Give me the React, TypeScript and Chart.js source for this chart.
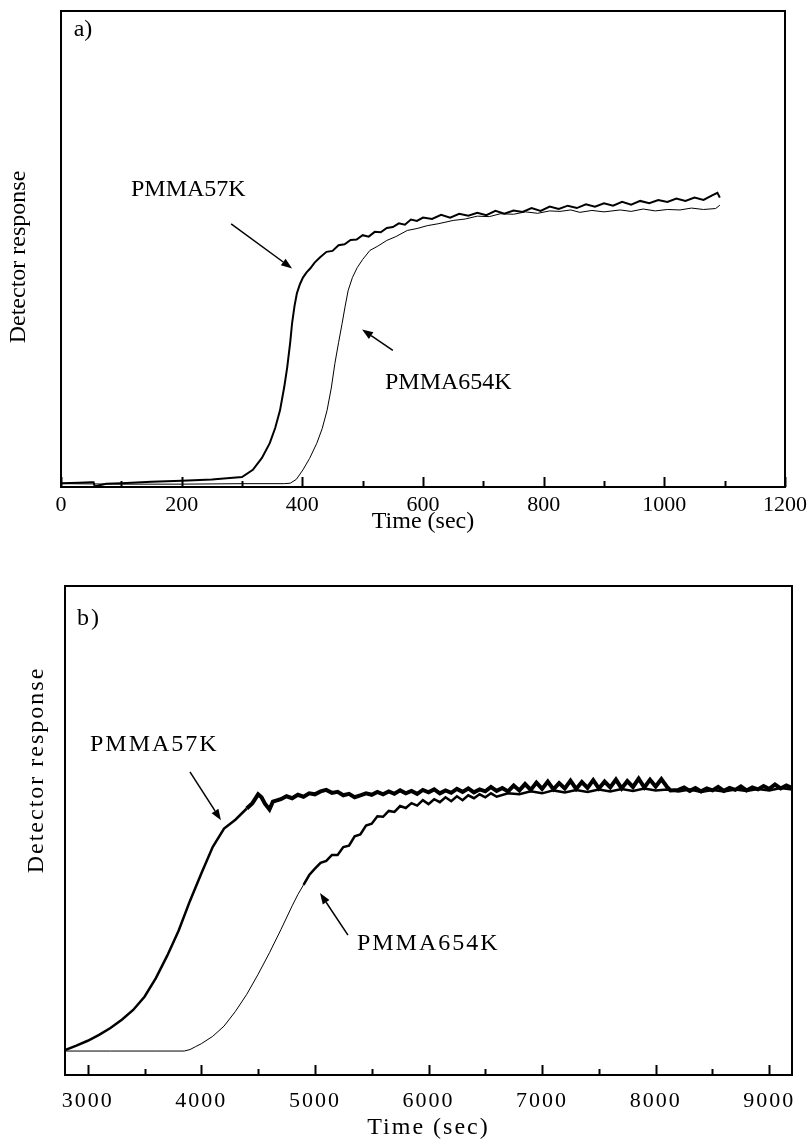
import { useEffect, useRef } from 'react';
import { Chart, registerables } from 'chart.js';

Chart.register(...registerables);

const FONT = '"Liberation Serif", "Times New Roman", Times, serif';

// ---------------- Panel a) ----------------
const aTicks = [0, 100, 200, 300, 400, 500, 600, 700, 800, 900, 1000, 1100, 1200];
const aMajorTicks = [0, 200, 400, 600, 800, 1000, 1200];
const aTickLabels = ['0', '200', '400', '600', '800', '1000', '1200'];

const a57Time = [
  0, 30, 50, 54, 56, 62, 75, 100, 150, 200, 250, 280, 300, 318, 333, 346, 355, 363, 370, 375,
  380, 383, 387, 391, 396, 401, 407, 413, 420, 429, 440, 450, 460, 470, 480, 490, 500, 510, 520,
  530, 540, 550, 560, 570, 580, 590, 600, 615, 630, 645, 660, 675, 690, 705, 720, 735, 750, 765,
  780, 795, 810, 825, 840, 855, 870, 885, 900, 915, 930, 945, 960, 975, 990, 1005, 1020, 1035,
  1050, 1065, 1080, 1088, 1092,
];
const a57Resp = [
  0.8, 0.9, 1.0, 1.0, 0.1, 0.3, 0.7, 0.8, 1.1, 1.3, 1.6, 1.9, 2.1, 3.6, 6.1, 9.2, 12.4, 16.1, 21.0, 25.2,
  30.5, 34.4, 38.0, 40.7, 42.6, 44.0, 45.1, 45.9, 47.1, 48.2, 49.4, 49.6, 50.8, 51.0, 51.9, 52.0, 52.9, 52.6, 53.6,
  53.5, 54.4, 54.6, 55.4, 55.1, 56.2, 55.9, 56.6, 56.3, 57.2, 56.6, 57.4, 57.0, 57.6, 57.1, 58.0, 57.4, 58.1, 57.8,
  58.6, 58.0, 58.9, 58.4, 59.1, 58.6, 59.4, 58.9, 59.6, 59.1, 59.9, 59.3, 60.1, 59.6, 60.3, 59.9, 60.6, 60.1,
  60.8, 60.3, 61.3, 61.8, 60.8,
];

const a654Time = [
  0, 100, 200, 300, 370, 380, 390, 401, 412, 424, 433, 441, 448, 454, 460, 466, 471, 476, 483, 491,
  500, 512, 525, 540, 555, 574, 590, 607, 625, 650, 670, 690, 710, 728, 750, 770, 790, 810, 827,
  845, 860, 880, 900, 927, 945, 965, 985, 1005, 1026, 1045, 1065, 1085, 1092,
];
const a654Resp = [
  0.7, 0.6, 0.6, 0.7, 0.7, 0.8, 1.6, 3.6, 6.0, 9.2, 12.3, 16.1, 20.8, 26.0, 30.3, 34.4, 38.0, 41.3, 44.0, 46.1,
  47.8, 49.7, 50.6, 51.8, 52.6, 53.9, 54.3, 54.9, 55.3, 56.0, 56.3, 56.9, 56.8, 57.4, 57.3, 57.8, 57.5, 58.0, 57.9,
  58.2, 57.7, 58.1, 57.8, 58.2, 57.9, 58.4, 58.0, 58.3, 58.2, 58.6, 58.3, 58.5, 59.2,
];

// ---------------- Panel b) ----------------
const bTicks = [3000, 3500, 4000, 4500, 5000, 5500, 6000, 6500, 7000, 7500, 8000, 8500, 9000];
const bMajorTicks = [3000, 4000, 5000, 6000, 7000, 8000, 9000];
const bTickLabels = ['3000', '4000', '5000', '6000', '7000', '8000', '9000'];

const b57Time = [
  2800, 2900, 3000, 3100, 3200, 3300, 3400, 3500, 3600, 3700, 3800, 3900, 4000, 4100, 4200, 4300,
  4400, 4450, 4500, 4530, 4560, 4600, 4630, 4700, 4750, 4800, 4850, 4900, 4950, 5000, 5050, 5100,
  5150, 5200, 5250, 5300, 5350, 5400, 5450, 5500, 5550, 5600, 5650, 5700, 5750, 5800, 5850, 5900,
  5950, 6000, 6050, 6100, 6150, 6200, 6250, 6300, 6350, 6400, 6450, 6500, 6550, 6600, 6650, 6700,
  6750, 6800, 6850, 6900, 6950, 7000, 7050, 7100, 7150, 7200, 7250, 7300, 7350, 7400, 7450, 7500,
  7550, 7600, 7650, 7700, 7750, 7800, 7850, 7900, 7950, 8000, 8050, 8100, 8130, 8200, 8250, 8300,
  8350, 8400, 8450, 8500, 8550, 8600, 8650, 8700, 8750, 8800, 8850, 8900, 8950, 9000, 9050, 9100,
  9150, 9200,
];
const b57Resp = [
  5.1, 6.0, 7.0, 8.2, 9.6, 11.3, 13.3, 16.0, 19.8, 24.4, 29.5, 35.6, 41.2, 46.6, 50.4, 52.2,
  54.5, 55.6, 57.4, 56.8, 55.5, 54.3, 55.9, 56.4, 57.0, 56.6, 57.3, 56.9, 57.6, 57.4, 58.0, 58.3,
  57.7, 57.9, 57.2, 57.5, 56.8, 57.2, 57.6, 57.3, 57.9, 57.4, 58.0, 57.5, 58.2, 57.6, 58.1, 57.5,
  58.3, 57.8, 58.4, 57.6, 58.2, 57.7, 58.5, 57.9, 58.6, 57.8, 58.4, 58.0, 58.9, 58.1, 58.7, 58.0,
  59.2, 58.2, 59.5, 58.3, 59.8, 58.5, 60.0, 58.4, 59.7, 58.6, 60.2, 58.5, 59.9, 58.7, 60.3, 58.6,
  60.0, 58.8, 60.4, 58.6, 60.1, 58.9, 60.6, 58.8, 60.4, 59.0, 60.5, 58.9, 58.2, 58.3, 58.8, 58.1,
  58.7, 58.0, 58.6, 58.2, 58.9, 58.1, 58.7, 58.3, 59.0, 58.2, 58.8, 58.4, 59.1, 58.5, 59.4, 58.6,
  59.2, 58.7,
];

const b654Time = [
  2800, 3200, 3600, 3850, 3900, 3950, 4000, 4100, 4200, 4300, 4400, 4500, 4600, 4700, 4800, 4850,
  4900, 4950, 5000, 5050, 5100, 5150, 5200, 5250, 5300, 5350, 5400, 5450, 5500, 5550, 5600, 5650,
  5700, 5750, 5800, 5850, 5900, 5950, 6000, 6050, 6100, 6150, 6200, 6250, 6300, 6350, 6400, 6450,
  6500, 6550, 6600, 6700, 6800, 6900, 7000, 7100, 7200, 7300, 7400, 7500, 7600, 7700, 7800, 7900,
  8000, 8100, 8200, 8300, 8400, 8500, 8600, 8700, 8800, 8900, 9000, 9100, 9200,
];
const b654Resp = [
  4.9, 4.9, 4.9, 4.9, 5.2, 5.8, 6.4, 7.9, 10.0, 13.0, 16.5, 20.6, 25.0, 29.7, 34.6, 36.9,
  38.9, 40.9, 42.2, 43.4, 43.8, 45.0, 45.0, 46.6, 46.9, 48.8, 49.2, 51.0, 51.4, 52.9, 52.8, 54.0,
  53.8, 55.0, 54.6, 55.6, 55.1, 56.2, 55.4, 56.4, 55.8, 56.8, 56.0, 57.0, 56.2, 57.2, 56.6, 57.4,
  56.8, 57.6, 56.9, 57.6, 57.4, 58.0, 57.6, 58.2, 57.8, 58.3, 57.9, 58.4, 58.0, 58.5, 58.1, 58.6,
  58.2, 58.4, 58.0, 58.4, 57.9, 58.3, 58.0, 58.4, 58.1, 58.5, 58.2, 58.7, 58.4,
];

// ---------------- annotations (data coordinates) ----------------
const aTexts = [
  { text: 'a)', x: 21, y: 96 },
  { text: 'PMMA57K', x: 116, y: 62.5 },
  { text: 'PMMA654K', x: 537, y: 22 },
];
const aArrows = [
  { x1: 282, y1: 55.3, x2: 383, y2: 45.9 },
  { x1: 550, y1: 28.7, x2: 499, y2: 33.1 },
];
const bTexts = [
  { text: 'b)', x: 2906, y: 93.3 },
  { text: 'PMMA57K', x: 3020, y: 67.5 },
  { text: 'PMMA654K', x: 5370, y: 26.8 },
];
const bArrows = [
  { x1: 3900, y1: 62, x2: 4173, y2: 52.1 },
  { x1: 5291, y1: 28.6, x2: 5045, y2: 37.2 },
];

const zip = (xs: number[], ys: number[]) => xs.map((x, i) => ({ x, y: ys[i] }));

const framePlugin = {
  id: 'frame',
  beforeDraw(chart: any, _a: any, opts: any) {
    chart.ctx.letterSpacing = opts.letterSpacing || '0px';
  },
  afterDatasetsDraw(chart: any, _a: any, opts: any) {
    const { ctx, chartArea: a, scales } = chart;
    const x = scales.x;
    const y = scales.y;
    ctx.save();
    ctx.letterSpacing = opts.letterSpacing || '0px';
    ctx.strokeStyle = '#000';
    ctx.fillStyle = '#000';
    ctx.lineWidth = 2;
    ctx.strokeRect(a.left, a.top, a.right - a.left, a.bottom - a.top);
    // inward tick marks
    for (const v of opts.ticks) {
      const px = Math.round(x.getPixelForValue(v)) + 0.5;
      const len = opts.major.includes(v) ? 10 : 6;
      ctx.beginPath();
      ctx.moveTo(px, a.bottom);
      ctx.lineTo(px, a.bottom - len);
      ctx.stroke();
    }
    // labels
    ctx.font = `24px ${FONT}`;
    ctx.textAlign = 'left';
    ctx.textBaseline = 'middle';
    for (const t of opts.texts) {
      ctx.fillText(t.text, x.getPixelForValue(t.x), y.getPixelForValue(t.y));
    }
    // arrows
    ctx.lineWidth = 1.5;
    for (const ar of opts.arrows) {
      const x1 = x.getPixelForValue(ar.x1), y1 = y.getPixelForValue(ar.y1);
      const x2 = x.getPixelForValue(ar.x2), y2 = y.getPixelForValue(ar.y2);
      const ang = Math.atan2(y2 - y1, x2 - x1);
      const hl = 11, hw = 4;
      const bx = x2 - hl * Math.cos(ang), by = y2 - hl * Math.sin(ang);
      ctx.beginPath();
      ctx.moveTo(x1, y1);
      ctx.lineTo(bx, by);
      ctx.stroke();
      ctx.beginPath();
      ctx.moveTo(x2, y2);
      ctx.lineTo(bx + hw * Math.sin(ang), by - hw * Math.cos(ang));
      ctx.lineTo(bx - hw * Math.sin(ang), by + hw * Math.cos(ang));
      ctx.closePath();
      ctx.fill();
    }
    // y title
    ctx.translate(opts.yTitleX, opts.yTitleY);
    ctx.rotate(-Math.PI / 2);
    ctx.textAlign = 'center';
    ctx.fillText('Detector response', 0, 0);
    ctx.restore();
  },
};

function buildConfig(p: any): any {
  const labelFor = (v: number) => {
    const i = p.major.indexOf(v);
    return i >= 0 ? p.labels[i] : '';
  };
  return {
    type: 'line',
    data: {
      datasets: [
        {
          data: zip(p.t57, p.r57),
          borderColor: '#000',
          borderWidth: p.w57,
          pointRadius: 0,
          tension: 0,
          segment: { borderWidth: (c: any) => (c.p0.parsed.x >= p.noisy57 ? p.w57n : p.w57) },
        },
        {
          data: zip(p.t654, p.r654),
          borderColor: '#000',
          borderWidth: p.w654,
          pointRadius: 0,
          tension: 0,
          segment: { borderWidth: (c: any) => (c.p0.parsed.x >= p.noisy654 ? p.w654n : p.w654) },
        },
      ],
    },
    options: {
      animation: false,
      responsive: false,
      events: [],
      layout: { padding: p.pad },
      plugins: {
        legend: { display: false },
        tooltip: { enabled: false },
        frame: {
          ticks: p.ticks,
          major: p.major,
          texts: p.texts,
          arrows: p.arrows,
          yTitleX: p.yTitleX,
          yTitleY: p.yTitleY,
          letterSpacing: p.letterSpacing,
        },
      },
      scales: {
        x: {
          type: 'linear',
          min: p.min,
          max: p.max,
          afterBuildTicks: (s: any) => {
            s.ticks = p.ticks.map((v: number) => ({ value: v }));
          },
          afterFit: (s: any) => {
            s.height = p.xH;
          },
          grid: { display: false },
          border: { display: false },
          ticks: {
            autoSkip: false,
            maxRotation: 0,
            minRotation: 0,
            padding: p.tickPad,
            color: '#000',
            font: { family: FONT, size: 22 },
            callback: (v: number) => labelFor(v),
          },
          title: {
            display: true,
            text: 'Time (sec)',
            color: '#000',
            font: { family: FONT, size: 24 },
            padding: { top: 0, bottom: p.titlePad },
          },
        },
        y: { display: false, min: 0, max: 100 },
      },
    },
    plugins: [framePlugin],
  };
}

const panelA = {
  t57: a57Time, r57: a57Resp, t654: a654Time, r654: a654Resp,
  w57: 2, w57n: 2, noisy57: 99999, w654: 1, w654n: 1, noisy654: 99999,
  min: 0, max: 1200, ticks: aTicks, major: aMajorTicks, labels: aTickLabels,
  pad: { left: 61, top: 11, right: 26, bottom: 0 }, xH: 58, tickPad: -3, titlePad: 9,
  texts: aTexts, arrows: aArrows, yTitleX: 19, yTitleY: 257, letterSpacing: '0px',
};

const panelB = {
  t57: b57Time, r57: b57Resp, t654: b654Time, r654: b654Resp,
  w57: 2.5, w57n: 4, noisy57: 4400, w654: 1, w654n: 2.5, noisy654: 4900,
  min: 2800, max: 9200, ticks: bTicks, major: bMajorTicks, labels: bTickLabels,
  pad: { left: 65, top: 31, right: 19, bottom: 0 }, xH: 67, tickPad: 5, titlePad: 0,
  texts: bTexts, arrows: bArrows, yTitleX: 37, yTitleY: 215, letterSpacing: '2px',
};

export default function App() {
  const refA = useRef<HTMLCanvasElement>(null);
  const refB = useRef<HTMLCanvasElement>(null);
  useEffect(() => {
    const ca = new Chart(refA.current as HTMLCanvasElement, buildConfig(panelA));
    const cb = new Chart(refB.current as HTMLCanvasElement, buildConfig(panelB));
    return () => {
      ca.destroy();
      cb.destroy();
    };
  }, []);
  return (
    <div style={{ position: 'absolute', left: 0, top: 0, width: 811, height: 1142, background: '#fff' }}>
      <canvas ref={refA} width={811} height={545} style={{ position: 'absolute', left: 0, top: 0 }} />
      <canvas ref={refB} width={811} height={587} style={{ position: 'absolute', left: 0, top: 555 }} />
    </div>
  );
}
